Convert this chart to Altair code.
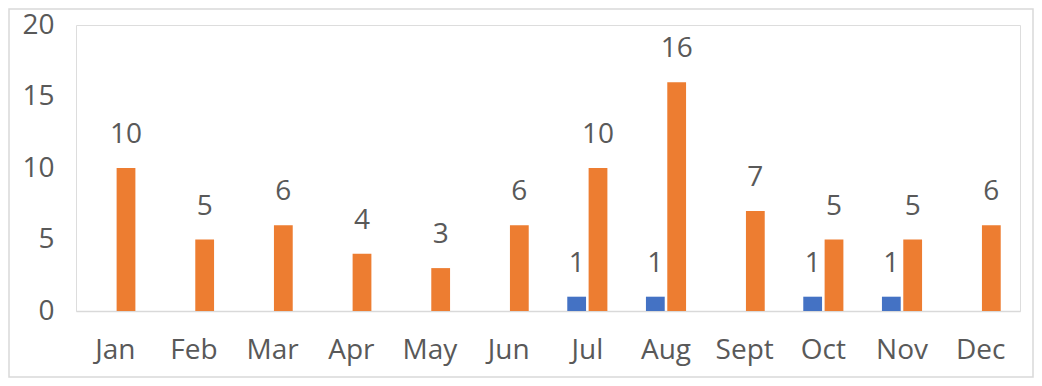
import altair as alt
import pandas as pd

months = ["Jan", "Feb", "Mar", "Apr", "May", "Jun", "Jul", "Aug", "Sept", "Oct", "Nov", "Dec"]
series_blue = [0, 0, 0, 0, 0, 0, 1, 1, 0, 1, 1, 0]
series_orange = [10, 5, 6, 4, 3, 6, 10, 16, 7, 5, 5, 6]
series_names = ["Series 1", "Series 2"]
y_ticks = [0, 5, 10, 15, 20]

rows = []
for m, a, b in zip(months, series_blue, series_orange):
    rows.append({"month": m, "series": series_names[0], "value": a})
    rows.append({"month": m, "series": series_names[1], "value": b})
df = pd.DataFrame(rows)

FONT = "Open Sans"
TXT = "#595959"
FS = 28

x_enc = alt.X(
    "month:N", sort=months,
    scale=alt.Scale(paddingInner=0.49, paddingOuter=0.245),
    axis=alt.Axis(title=None, labelAngle=0, ticks=False, domainColor="#d9d9d9",
                  domainWidth=1.5, labelFontSize=FS, labelColor=TXT, labelFont=FONT,
                  labelPadding=25),
)
xoff = alt.XOffset("series:N", sort=series_names, scale=alt.Scale(paddingInner=0.12))
y_enc = alt.Y(
    "value:Q", scale=alt.Scale(domain=[0, 20]),
    axis=alt.Axis(title=None, values=y_ticks, grid=False, domain=False, ticks=False,
                  labelFontSize=FS, labelColor=TXT, labelFont=FONT, labelPadding=22),
)
color = alt.Color("series:N", sort=series_names,
                  scale=alt.Scale(domain=series_names, range=["#4472C4", "#ED7D31"]),
                  legend=None)

base = alt.Chart(df)
bars = base.mark_bar().encode(x=x_enc, xOffset=xoff, y=y_enc, color=color)
labels = base.transform_filter("datum.value > 0").mark_text(
    baseline="alphabetic", dy=-25, fontSize=FS, font=FONT, color=TXT
).encode(x=x_enc, xOffset=xoff, y=y_enc, text="value:Q")

border = alt.Chart(pd.DataFrame({"k": [0]})).mark_rect(
    fill=None, stroke="#d9d9d9", strokeWidth=1.5
).encode(x=alt.value(-67), x2=alt.value(957), y=alt.value(-16), y2=alt.value(352))

chart = alt.layer(border, bars, labels).properties(
    width=944, height=286,
    autosize=alt.AutoSizeParams(type="none"),
    padding={"left": 68, "top": 17, "right": 14, "bottom": 67},
).configure_view(stroke=None).configure(background="white")

chart.save("out.html", embed_options={"renderer": "svg", "actions": False})
